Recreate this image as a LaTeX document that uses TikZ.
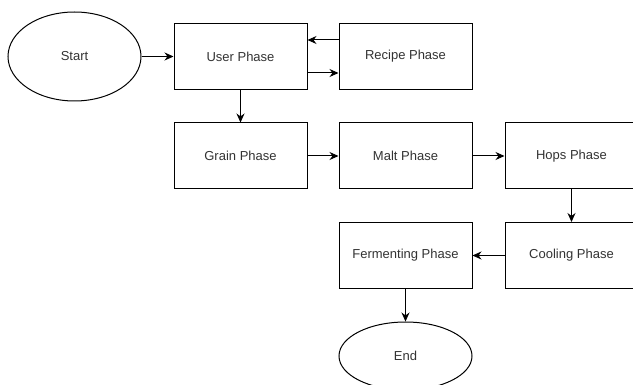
\documentclass[tikz,border=0pt]{standalone}
\usepackage{fontspec}
\setmainfont{Liberation Sans}
\usetikzlibrary{shapes.geometric,arrows.meta}
\definecolor{txt}{HTML}{333333}
\tikzset{
  phase/.style={draw=black, line width=1pt, rectangle, minimum width=133pt, minimum height=66pt, inner sep=0pt, font=\fontsize{13}{15}\selectfont, text=txt},
  term/.style={draw=black, line width=1pt, ellipse, inner sep=0pt, font=\fontsize{13}{15}\selectfont, text=txt},
  flow/.style={line width=1pt, -{Stealth[length=9pt,width=8pt]}}
}
\begin{document}
\begin{tikzpicture}[x=1pt,y=-1pt]
\clip (0,0) rectangle (633,385);
\fill[white] (0,0) rectangle (633,385);
\node[term, minimum width=133pt, minimum height=89pt] (start) at (74.5,56.5) {Start};
\node[phase] (user) at (240.5,56.5) {User Phase};
\node[phase] (recipe) at (405.5,56.5) {Recipe Phase};
\node[phase] (grain) at (240.5,156) {Grain Phase};
\node[phase] (malt) at (405.5,156) {Malt Phase};
\node[phase] (hops) at (571.5,156) {Hops Phase};
\node[phase] (cooling) at (571.5,255.5) {Cooling Phase};
\node[phase] (ferment) at (405.5,255.5) {Fermenting Phase};
\node[term, minimum width=133pt, minimum height=68pt] (end) at (405.5,356) {End};
\draw[flow] (start.east) -- (user.west);
\draw[flow] ([yshift=16.5pt]recipe.west) -- ([yshift=16.5pt]user.east);
\draw[flow] ([yshift=-16.5pt]user.east) -- ([yshift=-16.5pt]recipe.west);
\draw[flow] (user.south) -- (grain.north);
\draw[flow] (grain.east) -- (malt.west);
\draw[flow] (malt.east) -- (hops.west);
\draw[flow] (hops.south) -- (cooling.north);
\draw[flow] (cooling.west) -- (ferment.east);
\draw[flow] (ferment.south) -- (end.north);
\end{tikzpicture}
\end{document}
